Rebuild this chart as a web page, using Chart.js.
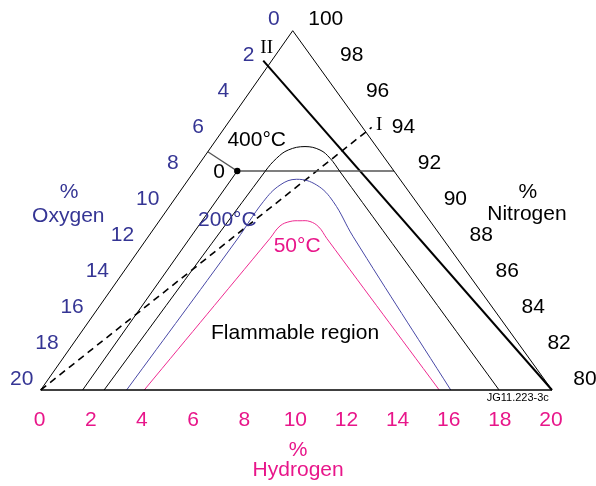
<!DOCTYPE html>
<html>
<head>
<meta charset="utf-8">
<script src="https://cdn.jsdelivr.net/npm/chart.js@4/dist/chart.umd.min.js"></script>
<style>
  html, body { margin: 0; padding: 0; background: #fff; }
  canvas { display: block; }
</style>
</head>
<body>
<canvas id="ternary" width="596" height="486"></canvas>
<script>
// axis ticks (percent)
const oxygenTicks = [0, 2, 4, 6, 8, 10, 12, 14, 16, 18, 20];
const nitrogenTicks = [100, 98, 96, 94, 92, 90, 88, 86, 84, 82, 80];
const hydrogenTicks = [0, 2, 4, 6, 8, 10, 12, 14, 16, 18, 20];

// flammability limits, % hydrogen / % oxygen (rest is nitrogen)
const h400 = [2.48, 2.78, 2.87, 3.10, 3.66, 4.34, 4.96, 5.72, 17.93];
const o400 = [17.52, 5.06, 4.23, 3.54, 2.79, 2.30, 2.14, 2.13, 2.07];
const h200 = [3.36, 3.55, 3.54, 3.74, 4.23, 5.17, 6.28, 8.02, 16.04];
const o200 = [16.64, 8.10, 5.98, 4.85, 4.04, 3.42, 3.24, 3.45, 3.96];
const h50 = [4.05, 4.81, 4.86, 5.13, 5.50, 5.91, 6.41, 7.03, 15.59];
const o50 = [15.95, 6.75, 6.01, 5.49, 5.08, 4.71, 4.52, 4.53, 4.41];

// 400 C limit at low hydrogen
const hLimit = [1.64, 1.68];
const oLimit = [18.36, 6.13];
// reference point "0": side -> point -> constant-N line
const hRef = [0, 1.68, 7.81];
const oRef = [6.74, 6.13, 0];
// dilution lines I and II
const hLineI = [0, 5.74];
const oLineI = [20, -0.36];
const hLineII = [-0.33, 20];
const oLineII = [2.0, 0];

const BLUE = '#353594';
const PINK = '#e8168a';
const FONT = '"Liberation Sans", Arial, sans-serif';
const SIZE = '21px ';

// ternary -> cartesian: x along hydrogen, y = N - 80, apex slightly left of centre
const SKEW = 0.4929;
function tern(h, o) {
  const n = 20 - h - o;
  return { x: h + n * SKEW, y: n };
}
const pts = (hs, os) => hs.map((h, i) => tern(h, os[i]));

function lineSet(data, color, width, extra) {
  return Object.assign({
    data,
    showLine: true,
    borderColor: color,
    borderWidth: width,
    pointRadius: 0,
    tension: 0,
    fill: false,
    clip: false,
  }, extra || {});
}

const notes = [
  { text: '400°C', x: 8.45, y: 13.89, color: '#000' },
  { text: '0', x: 6.98, y: 12.11, color: '#000' },
  { text: '200°C', x: 7.30, y: 9.45, color: BLUE },
  { text: '50°C', x: 10.03, y: 8.02, color: PINK },
  { text: 'Flammable region', x: 9.95, y: 3.17, color: '#000' },
  { text: '%', x: 1.11, y: 10.99, color: BLUE },
  { text: 'Oxygen', x: 1.08, y: 9.70, color: BLUE },
  { text: '%', x: 19.05, y: 10.99, color: '#000' },
  { text: 'Nitrogen', x: 19.02, y: 9.79, color: '#000' },
  { text: '%', x: 10.07, y: -3.34, color: PINK },
  { text: 'Hydrogen', x: 10.07, y: -4.45, color: PINK },
  { text: 'I', x: 13.24, y: 14.75, color: '#000', font: '19px "Liberation Serif", "Times New Roman", serif' },
  { text: 'II', x: 8.84, y: 19.04, color: '#000', font: '19px "Liberation Serif", "Times New Roman", serif' },
  { text: 'JG11.223-3c', x: 18.66, y: -0.45, color: '#000', font: '11px ' + FONT },
];

const labelPlugin = {
  id: 'ternaryLabels',
  afterDatasetsDraw(chart) {
    const { ctx, scales: { x, y } } = chart;
    const px = (p) => x.getPixelForValue(p.x);
    const py = (p) => y.getPixelForValue(p.y);
    ctx.save();
    ctx.textAlign = 'center';
    ctx.textBaseline = 'middle';
    ctx.font = SIZE + FONT;

    ctx.fillStyle = BLUE;
    oxygenTicks.forEach((o) => {
      const p = tern(0, o);
      ctx.fillText(String(o), px(p) - 19, py(p) - 11);
    });
    ctx.fillStyle = '#000';
    nitrogenTicks.forEach((n) => {
      const p = tern(100 - n, 0);
      ctx.fillText(String(n), px(p) + 33, py(p) - 11);
    });
    ctx.fillStyle = PINK;
    hydrogenTicks.forEach((h) => {
      const p = tern(h, 20 - h);
      ctx.fillText(String(h), px(p) - 1, py(p) + 30);
    });

    notes.forEach((n) => {
      ctx.font = n.font || SIZE + FONT;
      ctx.fillStyle = n.color;
      ctx.fillText(n.text, px(n), py(n));
    });
    ctx.restore();
  },
};

new Chart(document.getElementById('ternary'), {
  type: 'scatter',
  data: {
    datasets: [
      lineSet(pts([0, 0, 20], [20, 0, 0]), '#000', 1),
      lineSet(pts([0, 20], [20, 0]), '#000', 1.5),
      lineSet(pts(hLimit, oLimit), '#000', 1),
      lineSet(pts(h400, o400), '#000', 1, { tension: 0.4 }),
      lineSet(pts(h200, o200), '#4848a6', 1, { tension: 0.4 }),
      lineSet(pts(h50, o50), '#ee2a90', 1, { tension: 0.4 }),
      lineSet(pts(hRef, oRef), '#555', 1.3, {
        pointRadius: [0, 3.2, 0],
        pointBackgroundColor: '#000',
        pointBorderWidth: 0,
      }),
      lineSet(pts(hLineI, oLineI), '#000', 1.6, { borderDash: [7, 5] }),
      lineSet(pts(hLineII, oLineII), '#000', 2),
    ],
  },
  options: {
    responsive: false,
    animation: false,
    layout: { padding: { left: 40.7, right: 44, top: 30.7, bottom: 96 } },
    plugins: { legend: { display: false }, tooltip: { enabled: false } },
    scales: {
      x: { type: 'linear', min: 0, max: 20, display: false },
      y: { type: 'linear', min: 0, max: 20, display: false },
    },
  },
  plugins: [labelPlugin],
});
</script>
</body>
</html>
